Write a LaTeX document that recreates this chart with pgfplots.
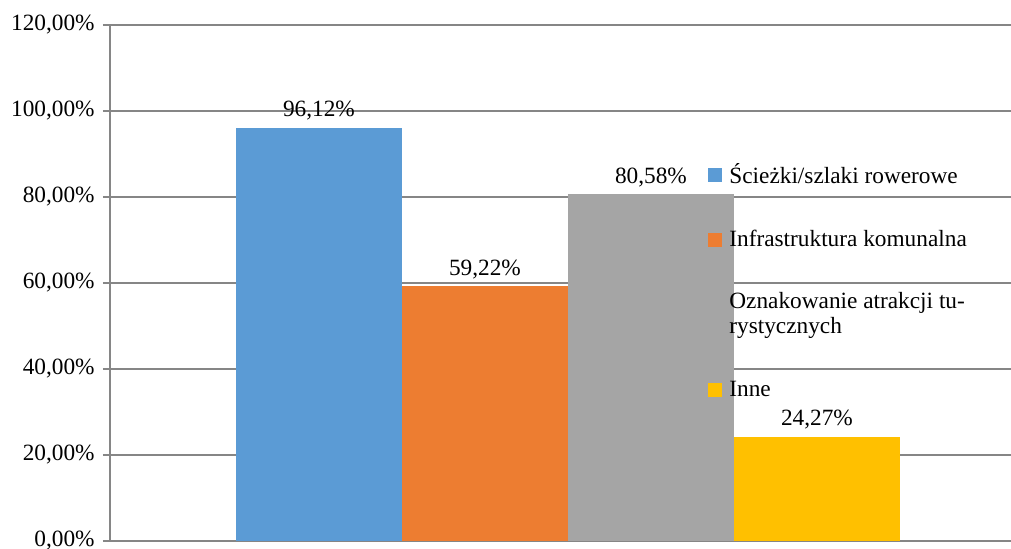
\documentclass[border=0pt]{standalone}
\usepackage{pgfplots}
\pgfplotsset{compat=1.18}
\usepackage{fontspec}
\setmainfont{Liberation Serif}
\definecolor{cblue}{RGB}{91,155,213}
\definecolor{corange}{RGB}{237,125,49}
\definecolor{cgray}{RGB}{165,165,165}
\definecolor{cyellow}{RGB}{255,192,0}
\definecolor{gridc}{RGB}{134,134,134}
\begin{document}
\fontsize{11.65}{11.5}\selectfont
\begin{tikzpicture}[font=\fontsize{11.65}{11.5}\selectfont]
\begin{axis}[
 at={(55pt,4pt)}, anchor=south west,
 scale only axis, width=450.5pt, height=258pt,
 xmin=-0.259, xmax=5.169, ymin=0, ymax=120,
 axis lines*=left,
 axis line style={draw=gridc, line width=0.6pt},
 xtick=\empty,
 ytick={0,20,40,60,80,100,120},
 yticklabels={{0,00\%},{20,00\%},{40,00\%},{60,00\%},{80,00\%},{100,00\%},{120,00\%}},
 ymajorgrids, grid style={gridc, line width=0.6pt},
 major tick length=3.5pt, tick align=outside, tick style={gridc, line width=0.6pt},
 yticklabel style={anchor=east, inner sep=0pt, xshift=-4pt},
 ybar, bar width=83pt, bar shift=0pt,
 nodes near coords={\pgfmathprintnumber[fixed,fixed zerofill,precision=2,use comma]{\pgfplotspointmeta}\%},
 every node near coord/.append style={anchor=base, inner sep=0pt, yshift=5.5pt, text=black},
 /pgf/number format/assume math mode=true,
 legend cell align=left,
 legend style={draw=none, fill=none, inner sep=0pt, row sep=21.5pt, column sep=3.5pt,
   nodes={inner sep=0pt, align=left},
   at={(rel axis cs:0.6637,0.7328)}, anchor=north west},
 legend image code/.code={\fill[#1] (0pt,-3.5pt) rectangle (7pt,3.5pt);},
]
\addplot[fill=cblue, draw=none] coordinates {(1,96.12)};
\addplot[fill=corange, draw=none] coordinates {(2,59.22)};
\addplot[fill=cgray, draw=none] coordinates {(3,80.58)};
\addplot[fill=cyellow, draw=none] coordinates {(4,24.27)};
\legend{\strut Ścieżki/szlaki rowerowe, \strut Infrastruktura komunalna, {\strut Oznakowanie atrakcji tu-\\\strut rystycznych}, \strut Inne}
\end{axis}
\pgfresetboundingbox
\useasboundingbox (0,0) rectangle (505.5pt,274.5pt);
\end{tikzpicture}
\end{document}
